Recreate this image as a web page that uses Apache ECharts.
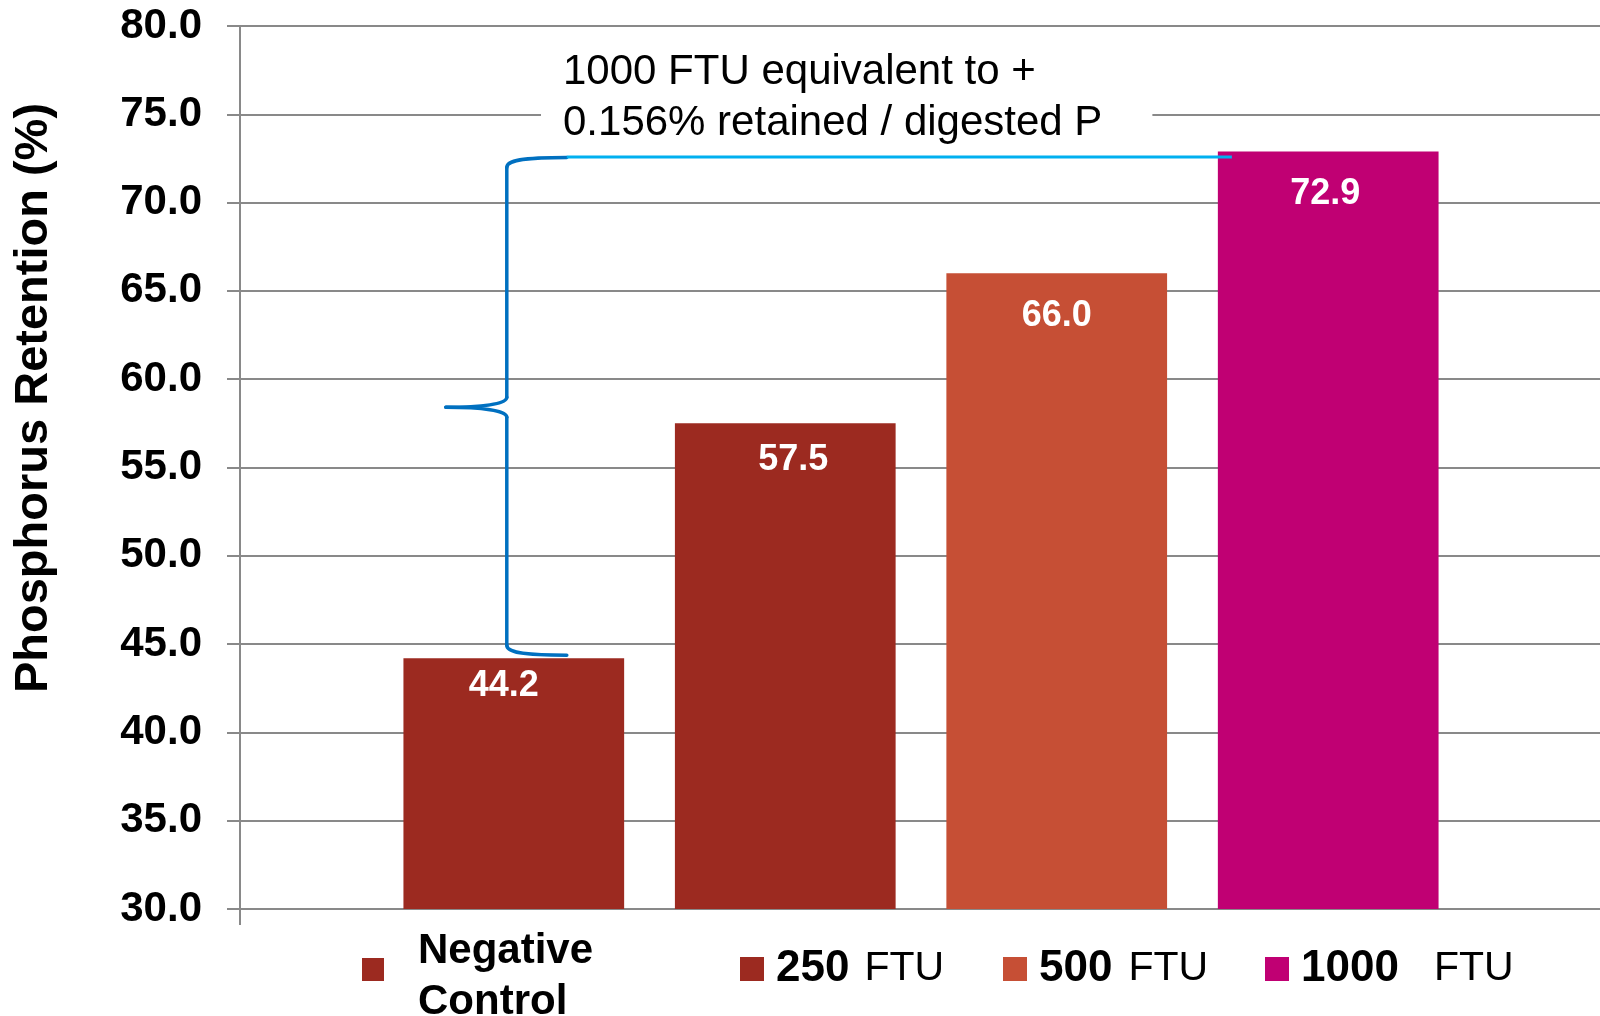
<!DOCTYPE html>
<html><head><meta charset="utf-8">
<script src="https://cdn.jsdelivr.net/npm/echarts@6/dist/echarts.min.js"></script>
<style>html,body{margin:0;padding:0;background:#fff}#c{width:1600px;height:1016px}</style>
</head><body><div id="c"></div>
<script>
// ---- data ----
const seriesNames = ['Negative Control', '250 FTU', '500 FTU', '1000 FTU'];
const retention = [44.2, 57.5, 66.0, 72.9];
const legendNumbers = ['', '250', '500', '1000'];
const yMin = 30, yMax = 80, yStep = 5;
const yTitle = 'Phosphorus Retention (%)';
const noteLines = ['1000 FTU equivalent to +', '0.156% retained / digested P'];

// ---- styles ----
const FONT = '"Liberation Sans", Arial, Helvetica, sans-serif';
const colors = ['#9C2A20', '#9C2A20', '#C64F35', '#C00073'];
const GRID = '#898989';
const labelOffsets = [[-10, -15], [8, -6], [0, 0], [-3, 0]];

const chart = echarts.init(document.getElementById('c'), null, {renderer: 'canvas'});

const series = seriesNames.map((n, i) => ({
  name: n,
  type: 'bar',
  data: [retention[i]],
  itemStyle: {color: colors[i]},
  barGap: '23%',
  barCategoryGap: '24%',
  label: {
    show: true, position: 'insideTop', distance: 25, offset: labelOffsets[i],
    formatter: p => p.value.toFixed(1),
    color: '#fff', fontFamily: FONT, fontWeight: 'bold', fontSize: 36
  },
  z: 2
}));

const legendLefts = [362, 740, 1003, 1265];
const legendTops = [930, 947, 947, 947];
const ftuPad = [0, 15, 16, 35];
const legends = seriesNames.map((n, i) => ({
  data: [n],
  left: legendLefts[i], top: legendTops[i],
  orient: 'horizontal', padding: 0,
  itemWidth: i === 0 ? 22 : 24, itemHeight: i === 0 ? 23 : 24,
  icon: 'rect', selectedMode: false,
  formatter: i === 0 ? '{n|Negative}\n{n|Control}' : '{b|' + legendNumbers[i] + '}{r|FTU}',
  textStyle: {
    fontFamily: FONT, fontSize: 41, color: '#000',
    padding: i === 0 ? [14, 0, 0, 29] : [0, 0, 0, 7],
    rich: {
      n: {fontFamily: FONT, fontSize: 42, fontWeight: 'bold', color: '#000', lineHeight: 51},
      b: {fontFamily: FONT, fontSize: 44, fontWeight: 'bold', color: '#000', lineHeight: 48},
      r: {fontFamily: FONT, fontSize: 41, color: '#000', padding: [0, 0, 0, ftuPad[i]]}
    }
  }
}));

const option = {
  backgroundColor: '#fff',
  animation: false,
  grid: {left: 240, right: -2, top: 26, bottom: 107, containLabel: false, outerBoundsMode: 'none'},
  legend: legends,
  xAxis: {
    type: 'category', data: [''], boundaryGap: true,
    axisLine: {show: true, lineStyle: {color: GRID, width: 2}},
    axisTick: {show: true, length: 16, lineStyle: {color: GRID, width: 2}},
    axisLabel: {show: false}
  },
  yAxis: {
    type: 'value', min: yMin, max: yMax, interval: yStep,
    axisLine: {show: true, lineStyle: {color: GRID, width: 2}},
    axisTick: {show: true, inside: false, length: 13, lineStyle: {color: GRID, width: 2}},
    axisLabel: {
      formatter: v => v.toFixed(1), margin: 38,
      fontFamily: FONT, fontWeight: 'bold', fontSize: 42, color: '#000'
    },
    splitLine: {show: true, lineStyle: {color: GRID, width: 2}}
  },
  series: series
};
chart.setOption(option);

// ---- annotations derived from the data / axes ----
const yTop = chart.convertToPixel({yAxisIndex: 0}, retention[3]);
const yBot = chart.convertToPixel({yAxisIndex: 0}, retention[0]);
let lay0, lay3;
try {
  lay0 = chart.getModel().getSeriesByIndex(0).getData().getItemLayout(0);
  lay3 = chart.getModel().getSeriesByIndex(3).getData().getItemLayout(0);
  if (!lay0 || lay0.x == null) throw new Error('no layout');
} catch (e) {
  const cx = chart.convertToPixel({xAxisIndex: 0}, 0);
  const band = 1362, bw = band * 0.76 / (4 + 3 * 0.23), step = bw * 1.23;
  const start = cx - (4 * bw + 3 * (step - bw)) / 2;
  lay0 = {x: start, width: bw};
  lay3 = {x: start + 3 * step, width: bw};
}
const xv = lay0.x + lay0.width / 2 - 7;
const xe = xv + 60, xt = xv - 61;
const y0 = yTop + 6, y1 = yBot - 3, ym = (y0 + y1) / 2 + 1;
const BRACE = {stroke: '#0070C0', lineWidth: 3.5, fill: 'none', lineCap: 'round'};
function bez(a, b, c, d) {
  return {type: 'bezierCurve', z: 10, silent: true,
    shape: {x1: a[0], y1: a[1], cpx1: b[0], cpy1: b[1], cpx2: c[0], cpy2: c[1], x2: d[0], y2: d[1]},
    style: BRACE};
}
function seg(a, b) {
  return {type: 'line', z: 10, silent: true,
    shape: {x1: a[0], y1: a[1], x2: b[0], y2: b[1]}, style: BRACE};
}
const braceParts = [
  bez([xe, y0], [xv + 15, y0], [xv, y0 + 3], [xv, y0 + 10]),
  seg([xv, y0 + 10], [xv, ym - 10]),
  bez([xv, ym - 10], [xv, ym - 3], [xv - 25, ym], [xt, ym]),
  bez([xt, ym], [xv - 25, ym], [xv, ym + 3], [xv, ym + 10]),
  seg([xv, ym + 10], [xv, y1 - 10]),
  bez([xv, y1 - 10], [xv, y1 - 3], [xv + 15, y1], [xe, y1])
];

chart.setOption({
  graphic: [
    {
      type: 'text', x: 34, y: 398, rotation: Math.PI / 2, z: 10,
      style: {text: yTitle, fontFamily: FONT, fontWeight: 'bold', fontSize: 47,
              fill: '#000', textAlign: 'center', textVerticalAlign: 'middle'}
    },
    {
      type: 'text', x: 541, y: 41, z: 10,
      style: {text: noteLines.join('\n'), fontFamily: FONT, fontSize: 42, lineHeight: 51,
              fill: '#000', textAlign: 'left', textVerticalAlign: 'top',
              backgroundColor: '#fff', padding: [6, 50, 6, 22]}
    }
  ].concat(braceParts, [
    {
      type: 'line', z: 10, silent: true,
      shape: {x1: xe, y1: yTop + 5.5, x2: lay3.x + 14, y2: yTop + 5.5},
      style: {stroke: '#00B0F0', lineWidth: 3}
    }
  ])
});
</script>
</body></html>
